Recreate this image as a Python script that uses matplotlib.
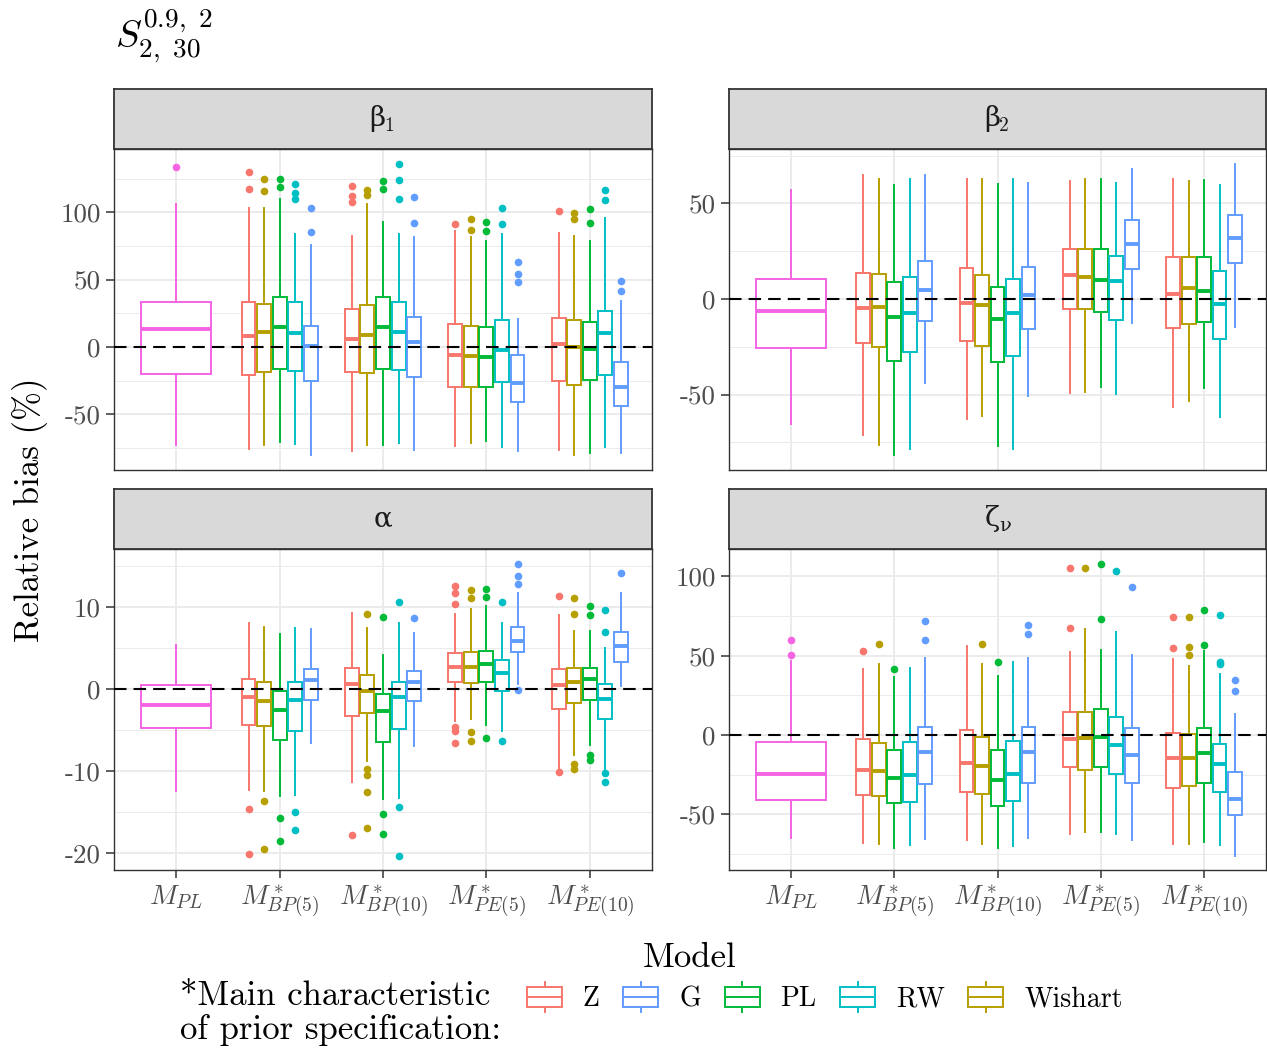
import numpy as np
import matplotlib
matplotlib.use("Agg")
import matplotlib.pyplot as plt
from matplotlib.legend_handler import HandlerBase
from matplotlib.patches import Rectangle
from matplotlib.lines import Line2D

plt.rcParams['font.family'] = ['cmr10', 'DejaVu Serif']
plt.rcParams['mathtext.fontset'] = 'cm'
plt.rcParams['axes.unicode_minus'] = False

# categories / series
models = [r'$M_{PL}$', r'$M^*_{BP(5)}$', r'$M^*_{BP(10)}$',
          r'$M^*_{PE(5)}$', r'$M^*_{PE(10)}$']
dodge_order = ['Z', 'Wishart', 'PL', 'RW', 'G']
legend_order = ['Z', 'G', 'PL', 'RW', 'Wishart']
colors = {'Z': '#F8766D', 'Wishart': '#B79F00', 'PL': '#00BA38',
          'RW': '#00BFC4', 'G': '#619CFF', 'MPL': '#F564E3'}

# five-number summaries (lo, q1, med, q3, hi) for BP5, BP10, PE5, PE10
# ---- beta_1
b1_mpl = [-73, -20, 13, 33, 106]
b1_mpl_out = [134]
b1_Z = [[-76, -21, 8.4, 33, 103], [-77, -18.6, 5.7, 28.5, 82.5],
        [-73.6, -30, -5.7, 16.8, 86], [-76.5, -25, 2, 21.8, 84.5]]
b1_Z_out = [[130, 117], [119.6, 112.4, 107.7], [91.4], [101]]
b1_W = [[-73, -18.6, 11, 32, 103.5], [-73, -19.6, 8.9, 31.4, 106],
        [-71, -29.5, -6.4, 15.6, 81.5], [-80.5, -28.2, 0.2, 19.8, 82.7]]
b1_W_out = [[125, 116], [116.6, 112.7], [95.3, 87], [99.8, 94.9]]
b1_PL = [[-70.6, -16.3, 15, 37.4, 110], [-72.6, -16.6, 15, 36.9, 93],
         [-69.8, -29.5, -7.2, 14.6, 78.5], [-78.5, -24.5, -1.7, 18.6, 79]]
b1_PL_out = [[125, 118.6], [123, 117.4], [92.9, 86.2], [102.8, 91.9]]
b1_RW = [[-71.8, -17.6, 10.6, 33, 83.7], [-71.6, -17, 11, 33.4, 83.7],
         [-74, -25.8, -2.2, 20, 84.2], [-74, -20.8, 10.2, 27, 95.6]]
b1_RW_out = [[121, 114.4, 110], [136, 124, 109.7], [103, 91.4], [116.6, 109]]
b1_G = [[-80, -25.5, 0.5, 15.6, 75.8], [-76.8, -22, 3.5, 22, 81.5],
        [-77.5, -41, -27, -6, 21], [-78.5, -43.8, -30, -11.4, 34.4]]
b1_G_out = [[103, 85.5], [111, 92.4], [63, 54, 48], [49.3, 41.8]]

# ---- beta_2
b2_mpl = [-65.4, -25.7, -6.3, 10.6, 57]
b2_mpl_out = []
b2_Z = [[-71.4, -22.9, -4.5, 13.6, 64.8], [-62.7, -22, -2.3, 16, 63],
        [-49.4, -5.1, 12.4, 26, 61.6], [-56.4, -15.2, 2.6, 22.2, 63]]
b2_W = [[-76.6, -25, -4, 12.9, 62.7], [-61.3, -24.6, -3, 12.4, 62.7],
        [-48.7, -5.2, 11.4, 26.2, 63], [-53.2, -13, 5.8, 21.8, 62]]
b2_PL = [[-81.9, -32.6, -9.6, 8.9, 59.9], [-77, -33, -10.6, 6.4, 60.2],
         [-45.9, -6.8, 9.9, 26.3, 62.7], [-46.6, -12, 4, 22.2, 62.3]]
b2_RW = [[-78.7, -27.7, -7.5, 11.4, 62.7], [-78.4, -29.8, -7.2, 10.3, 63],
         [-49.7, -11, 9.3, 22.5, 60.9], [-61.6, -21.1, -2.8, 14.5, 59.9]]
b2_G = [[-44.1, -11.7, 4.7, 20, 64.8], [-50.8, -15.7, 2.3, 16.9, 60.9],
        [-12.7, 15.5, 28.8, 41.4, 68.2], [-14.5, 19, 31.9, 43.8, 70.5]]
b2_none = [[], [], [], []]

# ---- alpha
al_mpl = [-12.4, -4.7, -2, 0.5, 5.4]
al_mpl_out = []
al_Z = [[-12.3, -4.4, -1, 1.2, 8.1], [-11.3, -3.3, 0.6, 2.6, 9.3],
        [-3.9, 0.9, 2.7, 4.4, 9.1], [-9.8, -2.4, 0.5, 2.4, 9]]
al_Z_out = [[-14.6, -20.1], [-17.8], [12.5, 11.7, 10.4, -4.6, -5.1, -6.6],
            [11.3, -10.1]]
al_W = [[-12.4, -4.5, -1.5, 0.9, 7.5], [-8.8, -2.9, -0.2, 1.7, 7.4],
        [-3.6, 0.7, 2.7, 4.5, 9.8], [-8, -1.7, 0.8, 2.5, 7.1]]
al_W_out = [[-13.7, -19.5], [9.1, -9.8, -10.5, -12.6, -16.9],
            [12.1, 11.1, -5.2, -6.4], [11.1, 9.1, -9.1, -9.7]]
al_PL = [[-13.1, -6.2, -2.5, -0.3, 6.7], [-13.4, -6.5, -2.7, -0.6, 4.2],
         [-4.4, 0.9, 3, 4.6, 10.1], [-6.8, -1.3, 1.2, 2.6, 7.1]]
al_PL_out = [[-15.7, -18.5], [8.8, -15.3, -17.7], [12.2, 11.2, -6],
             [10.1, 9, -8, -8.7]]
al_RW = [[-12.9, -5.1, -1.4, 0.8, 7.4], [-13.3, -4.9, -1, 0.8, 8],
         [-5.1, -0.2, 1.9, 3.5, 8], [-9.9, -3.7, -1.2, 0.6, 5]]
al_RW_out = [[-15, -17.2], [10.6, -14.4, -20.4], [10.6, -6.4],
             [9.6, 6.9, -10.2, -11.3]]
al_G = [[-6.6, -1.3, 1.1, 2.4, 7.3], [-7, -1.5, 0.8, 2.2, 6.8],
        [0.6, 4.5, 5.9, 7.6, 11.7], [0.4, 3.3, 5.3, 7, 11.7]]
al_G_out = [[], [8.7], [15.3, 13.8, 12.8, -0.1], [14.2]]

# ---- zeta_nu
ze_mpl = [-65.2, -41, -24.8, -4.6, 46.7]
ze_mpl_out = [60, 50.4]
ze_Z = [[-67.9, -37.8, -22.3, -2.7, 41.4], [-66, -35.7, -17.8, 3, 56.1],
        [-62.2, -20, -2.5, 14.7, 52.5], [-68.5, -33.2, -14.7, 1, 47.9]]
ze_Z_out = [[52.8], [], [105.5, 67.7], [74.2, 55]]
ze_W = [[-68.9, -38.7, -22.9, -5, 45], [-68.5, -37.4, -19.3, -1.5, 44.8],
        [-61.4, -21.9, -2.1, 14.7, 66.6], [-68.5, -32.4, -14.7, 0.8, 43.5]]
ze_W_out = [[57.6], [57.6], [105.1], [74.4, 55.3, 50.4]]
ze_PL = [[-71, -42.7, -26.9, -9.7, 36.6], [-71.4, -44.8, -28.6, -9.7, 37.4],
         [-61.4, -20.2, -1.3, 16.2, 53.4], [-67.3, -30.3, -11.6, 4.2, 53]]
ze_PL_out = [[41.6], [45.8], [108, 73], [79, 56.7]]
ze_RW = [[-69.4, -42, -25.2, -4.2, 42], [-70.2, -41.6, -24.4, -3.8, 45.8],
         [-62.6, -24.8, -6.3, 11.3, 65.1], [-69.4, -36.1, -18.1, -5.9, 38.3]]
ze_RW_out = [[], [], [103.4], [75.9, 46.2, 45]]
ze_G = [[-65.8, -30.7, -10.9, 5.2, 48.4], [-65.2, -30.5, -10.9, 5, 48.4],
        [-66.4, -30.3, -12.6, 4.6, 50.4], [-76.1, -50.4, -40.4, -23.5, 13]]
ze_G_out = [[71.7, 59.7], [69.4, 63.9], [93.5], [34.9, 27.7]]

panels = [
    dict(label=('β', '1'), mpl=b1_mpl, mpl_out=b1_mpl_out,
         series={'Z': (b1_Z, b1_Z_out), 'Wishart': (b1_W, b1_W_out),
                 'PL': (b1_PL, b1_PL_out), 'RW': (b1_RW, b1_RW_out),
                 'G': (b1_G, b1_G_out)},
         ylim=(-91.4, 147), major=[-50, 0, 50, 100], minor=[-75, -25, 25, 75, 125],
         box=(114, 89, 652, 470)),
    dict(label=('β', '2'), mpl=b2_mpl, mpl_out=b2_mpl_out,
         series={'Z': (b2_Z, b2_none), 'Wishart': (b2_W, b2_none),
                 'PL': (b2_PL, b2_none), 'RW': (b2_RW, b2_none),
                 'G': (b2_G, b2_none)},
         ylim=(-89.5, 78.5), major=[-50, 0, 50], minor=[-75, -25, 25, 75],
         box=(729, 89, 1266, 470)),
    dict(label=('α', ''), mpl=al_mpl, mpl_out=al_mpl_out,
         series={'Z': (al_Z, al_Z_out), 'Wishart': (al_W, al_W_out),
                 'PL': (al_PL, al_PL_out), 'RW': (al_RW, al_RW_out),
                 'G': (al_G, al_G_out)},
         ylim=(-22.07, 17.07), major=[-20, -10, 0, 10], minor=[-15, -5, 5, 15],
         box=(114, 489, 652, 870)),
    dict(label=('ζ', 'ν'), mpl=ze_mpl, mpl_out=ze_mpl_out,
         series={'Z': (ze_Z, ze_Z_out), 'Wishart': (ze_W, ze_W_out),
                 'PL': (ze_PL, ze_PL_out), 'RW': (ze_RW, ze_RW_out),
                 'G': (ze_G, ze_G_out)},
         ylim=(-85.1, 117.3), major=[-50, 0, 50, 100], minor=[-75, -25, 25, 75],
         box=(729, 489, 1266, 870)),
]

W, H = 1267, 1051
fig = plt.figure(figsize=(W / 100, H / 100), dpi=100)
strip_h = 60
LW = 1.4


def add_px_axes(x0, y0, x1, y1):
    return fig.add_axes([x0 / W, 1 - y1 / H, (x1 - x0) / W, (y1 - y0) / H])


def draw_boxes(ax, stats5, outs, positions, width, color):
    st = []
    for s, o in zip(stats5, outs):
        st.append(dict(whislo=s[0], q1=s[1], med=s[2], q3=s[3], whishi=s[4],
                       fliers=o))
    ax.bxp(st, positions=positions, widths=width, showcaps=False,
           patch_artist=True, manage_ticks=False,
           boxprops=dict(facecolor='white', edgecolor=color, linewidth=LW),
           whiskerprops=dict(color=color, linewidth=LW),
           medianprops=dict(color=color, linewidth=2 * LW, solid_capstyle='butt'),
           flierprops=dict(marker='o', markerfacecolor=color,
                           markeredgecolor='none', markersize=5.5))


for i, p in enumerate(panels):
    x0, y0, x1, y1 = p['box']
    ax = add_px_axes(x0, y0 + strip_h, x1, y1)
    sax = add_px_axes(x0, y0, x1, y0 + strip_h)

    # strip
    sax.set_facecolor('#D9D9D9')
    sax.set_xticks([])
    sax.set_yticks([])
    for sp in sax.spines.values():
        sp.set_color('#333333')
        sp.set_linewidth(1.3)
    base, sub = p['label']
    if sub:
        sax.annotate(base, xy=(0.5, 0.5), xycoords='axes fraction',
                     xytext=(-4, 0), textcoords='offset points',
                     ha='center', va='center', fontsize=20, color='#1A1A1A',
                     family='DejaVu Serif')
        sax.annotate(sub, xy=(0.5, 0.5), xycoords='axes fraction',
                     xytext=(1, -5), textcoords='offset points',
                     ha='left', va='center', fontsize=14, color='#1A1A1A',
                     family=['cmr10', 'DejaVu Serif'])
    else:
        sax.text(0.5, 0.5, base, ha='center', va='center', fontsize=20,
                 color='#1A1A1A', transform=sax.transAxes,
                 family='DejaVu Serif')

    # grid
    ax.set_xlim(0.4, 5.6)
    ax.set_ylim(*p['ylim'])
    ax.set_yticks(p['major'])
    ax.set_yticks(p['minor'], minor=True)
    ax.set_xticks(np.arange(1, 6))
    ax.grid(True, which='major', color='#EBEBEB', linewidth=1.4)
    ax.grid(True, which='minor', axis='y', color='#EBEBEB', linewidth=0.7)
    ax.set_axisbelow(True)
    for sp in ax.spines.values():
        sp.set_color('#333333')
        sp.set_linewidth(1.0)

    # M_PL box
    draw_boxes(ax, [p['mpl']], [p['mpl_out']], [1], 0.675, colors['MPL'])
    # dodged boxes
    for k, name in enumerate(dodge_order):
        s5, outs = p['series'][name]
        pos = np.arange(2, 6) + (k - 2) * 0.15
        draw_boxes(ax, s5, outs, pos, 0.135, colors[name])

    ax.axhline(0, color='black', linewidth=1.5, linestyle=(0, (6, 3.4)),
               zorder=10)

    ax.set_yticklabels([str(v) for v in p['major']])
    ax.tick_params(axis='y', which='major', length=5.5, width=1.1,
                   color='#333333', labelsize=19.5, labelcolor='#4D4D4D', pad=4)
    ax.tick_params(axis='y', which='minor', length=0)
    if i >= 2:
        ax.set_xticklabels(models)
        ax.tick_params(axis='x', length=5.5, width=1.1, color='#333333',
                       labelsize=20, labelcolor='#4D4D4D', pad=4)
    else:
        ax.tick_params(axis='x', length=0, labelbottom=False)

# titles
fig.text(115 / W, 1 - 6 / H, r'$S_{2,\ 30}^{0.9,\ 2}$', fontsize=28,
         ha='left', va='top')
fig.text(30 / W, 1 - 510 / H, 'Relative bias (%)', rotation=90, fontsize=25,
         ha='center', va='center')
fig.text(690 / W, 1 - 958 / H, 'Model', fontsize=25, ha='center',
         va='center')
fig.text(180 / W, 1 - 1013 / H, '*Main characteristic\nof prior specification:',
         fontsize=25, ha='left', va='center', linespacing=1.1)


class BoxKey(HandlerBase):
    def create_artists(self, legend, orig, xd, yd, w, h, fs, trans):
        c = orig.get_color()
        bh = h * 0.64
        wh = Line2D([-xd + w / 2] * 2, [-yd, -yd + h], color=c, lw=LW,
                    transform=trans)
        box = Rectangle((-xd, -yd + (h - bh) / 2), w, bh, facecolor='white',
                        edgecolor=c, lw=LW, transform=trans)
        med = Line2D([-xd, -xd + w], [-yd + h / 2] * 2, color=c, lw=LW,
                     transform=trans)
        return [wh, box, med]


handles = [Line2D([], [], color=colors[n]) for n in legend_order]
fig.legend(handles, legend_order, handler_map={Line2D: BoxKey()},
           loc='center left', bbox_to_anchor=(527 / W, 1 - 997 / H),
           ncol=5, frameon=False, fontsize=20, borderpad=0, borderaxespad=0,
           handlelength=1.26, handleheight=1.3, handletextpad=0.75,
           columnspacing=0.85)

fig.savefig('out.png', dpi=100)
